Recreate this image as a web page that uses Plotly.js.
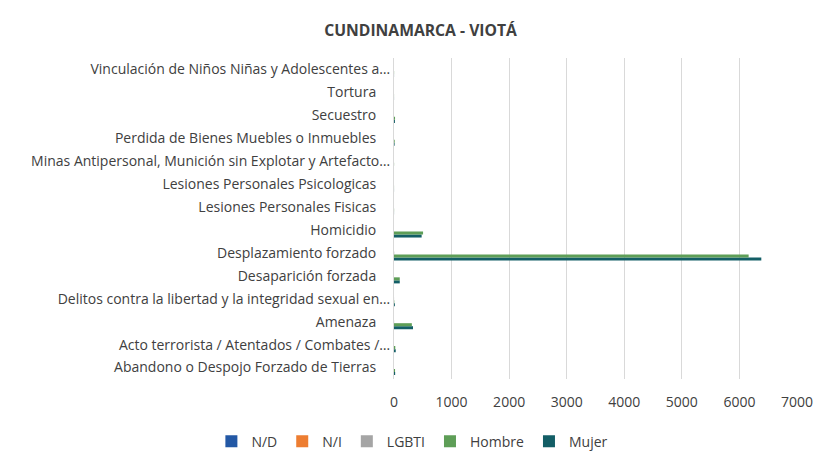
<!DOCTYPE html>
<html>
<head>
<meta charset="utf-8">
<script src="https://cdn.plot.ly/plotly-3.0.1.min.js"></script>
<style>html,body{margin:0;padding:0;background:#fff;}#chart{width:815px;height:465px;}</style>
</head>
<body>
<div id="chart"></div>
<script>
// Categories, bottom to top
const categories = [
  "Abandono o Despojo Forzado de Tierras",
  "Acto terrorista / Atentados / Combates /…",
  "Amenaza",
  "Delitos contra la libertad y la integridad sexual en…",
  "Desaparición forzada",
  "Desplazamiento forzado",
  "Homicidio",
  "Lesiones Personales Fisicas",
  "Lesiones Personales Psicologicas",
  "Minas Antipersonal, Munición sin Explotar y Artefacto…",
  "Perdida de Bienes Muebles o Inmuebles",
  "Secuestro",
  "Tortura",
  "Vinculación de Niños Niñas y Adolescentes a…"
];
const nd     = [0, 0, 0, 0, 0, 0, 0, 0, 0, 0, 0, 0, 0, 0];
const ni     = [0, 0, 0, 0, 0, 0, 0, 0, 0, 0, 0, 0, 0, 0];
const lgbti  = [0, 0, 2, 1, 0, 4, 0, 0, 0, 0, 0, 0, 0, 0];
const hombre = [18, 22, 310, 5, 100, 6160, 505, 2, 1, 2, 12, 18, 1, 2];
const mujer  = [20, 30, 330, 15, 100, 6380, 480, 1, 1, 0, 10, 16, 1, 1];

const seriesNames = ["Mujer", "Hombre", "LGBTI", "N/I", "N/D"];
const seriesValues = [mujer, hombre, lgbti, ni, nd];
const seriesColors = ["#135e66", "#5e9e57", "#a5a5a5", "#ed7d31", "#2358a5"];

// truncated labels run closer to the axis, like the reference
const tickLabels = categories.map(c => c.endsWith("…") ? c : c + "\u2002\u2002");

const traces = seriesNames.map((n, i) => ({
  type: "bar",
  orientation: "h",
  name: n,
  y: categories,
  x: seriesValues[i],
  marker: {color: seriesColors[i]},
  hoverinfo: "x+name"
}));

const layout = {
  width: 815, height: 465,
  paper_bgcolor: "#ffffff", plot_bgcolor: "#ffffff",
  margin: {l: 394, r: 18, t: 58, b: 86},
  barmode: "group",
  bargap: 0.34,
  bargroupgap: 0,
  title: {text: "<b>CUNDINAMARCA - VIOTÁ</b>", x: 0.516, xanchor: "center", y: 0.935, yanchor: "middle",
          font: {family: "Open Sans, Noto Sans, sans-serif", size: 15.7, color: "#404040"}},
  font: {family: "Open Sans, Noto Sans, sans-serif", size: 14, color: "#404040"},
  xaxis: {range: [0, 7000], dtick: 1000, tick0: 0, showgrid: true, gridcolor: "#d9d9d9", gridwidth: 1,
          zeroline: false, showline: false, ticks: "", ticklabelstandoff: 13,
          tickfont: {size: 14, color: "#404040"}, fixedrange: true, automargin: false},
  yaxis: {type: "category", categoryorder: "array", categoryarray: categories,
          tickmode: "array", tickvals: categories, ticktext: tickLabels,
          showline: true, linecolor: "#d9d9d9", linewidth: 1, ticks: "", ticklen: 0,
          ticklabelstandoff: 0,
          tickfont: {size: 14, color: "#404040"}, automargin: false, fixedrange: true},
  legend: {orientation: "h", traceorder: "reversed", xref: "container", x: 0.506, xanchor: "center",
           yref: "container", y: 0.05, yanchor: "middle",
           font: {size: 14, color: "#404040"}, itemwidth: 30},
  showlegend: true
};

Plotly.newPlot("chart", traces, layout, {displayModeBar: false, staticPlot: true});
</script>
</body>
</html>
